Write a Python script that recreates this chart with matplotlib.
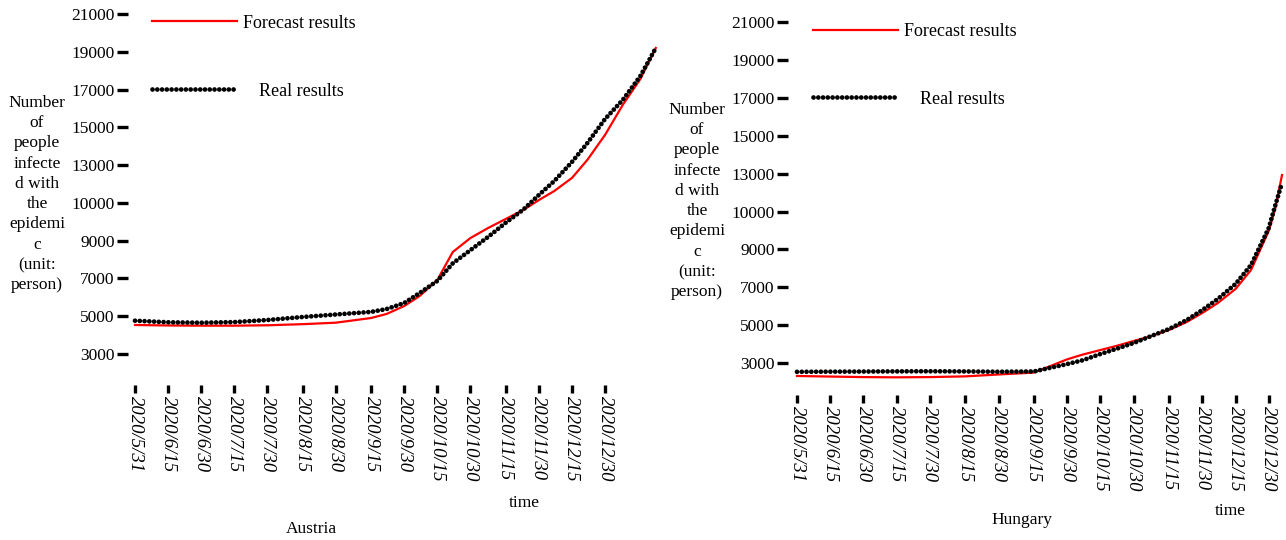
import matplotlib
matplotlib.use("Agg")
import matplotlib.pyplot as plt
import pandas as pd

plt.rcParams["font.family"] = ["Liberation Serif", "DejaVu Serif"]

START = pd.Timestamp("2020-05-31")

tick_dates = [
    "2020-05-31", "2020-06-15", "2020-06-30", "2020-07-15", "2020-07-30",
    "2020-08-15", "2020-08-30", "2020-09-15", "2020-09-30", "2020-10-15",
    "2020-10-30", "2020-11-15", "2020-11-30", "2020-12-15", "2020-12-30",
]
tick_labels = [
    "2020/5/31", "2020/6/15", "2020/6/30", "2020/7/15", "2020/7/30",
    "2020/8/15", "2020/8/30", "2020/9/15", "2020/9/30", "2020/10/15",
    "2020/10/30", "2020/11/15", "2020/11/30", "2020/12/15", "2020/12/30",
]
y_ticks = [3000, 5000, 7000, 9000, 11000, 13000, 15000, 17000, 19000, 21000]
y_tick_labels = ["3000", "5000", "7000", "9000", "10000", "13000",
                 "15000", "17000", "19000", "21000"]

# Austria
austria_dates = [
    "2020-05-31", "2020-06-15", "2020-06-30", "2020-07-15", "2020-07-30",
    "2020-08-15", "2020-08-30", "2020-09-15", "2020-09-22", "2020-09-30",
    "2020-10-07", "2020-10-15", "2020-10-22", "2020-10-30", "2020-11-07",
    "2020-11-15", "2020-11-23", "2020-11-30", "2020-12-07", "2020-12-15",
    "2020-12-22", "2020-12-30", "2021-01-07", "2021-01-15", "2021-01-22",
]
austria_real = [
    4763, 4680, 4657, 4690, 4800, 4960, 5092, 5230, 5380, 5700,
    6230, 6870, 7800, 8500, 9200, 9950, 10650, 11418, 12159, 13165,
    14170, 15441, 16447, 17718, 19200,
]
austria_forecast = [
    4536, 4510, 4500, 4500, 4520, 4580, 4658, 4906, 5120, 5540,
    6071, 6920, 8400, 9140, 9670, 10150, 10624, 11150, 11630, 12320,
    13280, 14600, 16183, 17559, 19200,
]

# Hungary
hungary_dates = [
    "2020-05-31", "2020-06-15", "2020-06-30", "2020-07-15", "2020-07-30",
    "2020-08-15", "2020-08-30", "2020-09-15", "2020-09-30", "2020-10-07",
    "2020-10-15", "2020-10-22", "2020-10-30", "2020-11-07", "2020-11-15",
    "2020-11-23", "2020-11-30", "2020-12-07", "2020-12-15", "2020-12-22",
    "2020-12-30", "2021-01-02", "2021-01-05",
]
hungary_real = [
    2540, 2548, 2555, 2565, 2570, 2560, 2545, 2560, 2950, 3150,
    3480, 3744, 4060, 4430, 4800, 5275, 5800, 6383, 7174, 8177,
    10130, 11343, 12504,
]
hungary_forecast = [
    2320, 2290, 2262, 2250, 2262, 2300, 2400, 2500, 3200, 3450,
    3690, 3900, 4165, 4430, 4747, 5170, 5645, 6170, 6910, 7913,
    9970, 11185, 12926,
]

FS = 12.5
W, H = 1286, 540
YLABEL = ("Number\nof\npeople\ninfecte\nd with\nthe\nepidemi\nc\n"
          "(unit:\nperson)")

DOTTED = dict(color="black", linewidth=3.4, linestyle=(0, (0.01, 1.0)),
              dash_capstyle="round")


def days(dates):
    return [(pd.Timestamp(d) - START).days for d in dates]


def panel(fig, box, xlim, ylim, dates, real, forecast, leg_x, leg_y):
    left, bottom, right, top = box
    ax = fig.add_axes([left / W, 1 - bottom / H, (right - left) / W,
                       (bottom - top) / H])
    x = days(dates)
    ax.plot(x, forecast, color="red", linewidth=1.6,
            label="Forecast results")
    ax.plot(x, real, label="Real results", **DOTTED)

    ax.set_xlim(*xlim)
    ax.set_ylim(*ylim)
    for s in ax.spines.values():
        s.set_visible(False)

    ax.set_yticks(y_ticks)
    ax.set_yticklabels(y_tick_labels, fontsize=FS)
    ax.set_xticks(days(tick_dates))
    ax.set_xticklabels(tick_labels, fontsize=13.5, rotation=270,
                       style="italic", va="top", ha="center")
    ax.tick_params(axis="y", direction="out", length=8, width=2.4, pad=1.5)
    ax.tick_params(axis="x", direction="out", length=6, width=2.4, pad=2)

    handles, labels = ax.get_legend_handles_labels()
    leg1 = ax.legend([handles[0]], [labels[0]], loc="center left",
                     bbox_to_anchor=(leg_x, leg_y[0]), frameon=False,
                     fontsize=13, handlelength=4.7, handletextpad=0.35,
                     borderpad=0, borderaxespad=0)
    ax.add_artist(leg1)
    ax.legend([handles[1]], [labels[1]], loc="center left",
              bbox_to_anchor=(leg_x, leg_y[1]), frameon=False, fontsize=13,
              handlelength=4.7, handletextpad=1.22, borderpad=0,
              borderaxespad=0)
    return ax


fig = plt.figure(figsize=(W / 100, H / 100), dpi=100)

panel(fig, (128, 385, 660, 10), (-3.17, 237.9), (1359, 21212),
      austria_dates, austria_real, austria_forecast,
      0.045, (0.965, 0.784))
panel(fig, (788, 395, 1286, 16), (-4.06, 220.8), (1317, 21317),
      hungary_dates, hungary_real, hungary_forecast,
      0.050, (0.958, 0.781))

for (px, py), txt in [((37, 194), YLABEL), ((697, 201), YLABEL)]:
    fig.text(px / W, 1 - py / H, txt, fontsize=FS, ha="center",
             va="center", linespacing=1.36)

for (px, py), txt in [((524, 503), "time"), ((1230, 511), "time"),
                      ((311, 529), "Austria"), ((1022, 520), "Hungary")]:
    fig.text(px / W, 1 - py / H, txt, fontsize=FS, ha="center",
             va="center")

fig.savefig("out.png", dpi=100)
